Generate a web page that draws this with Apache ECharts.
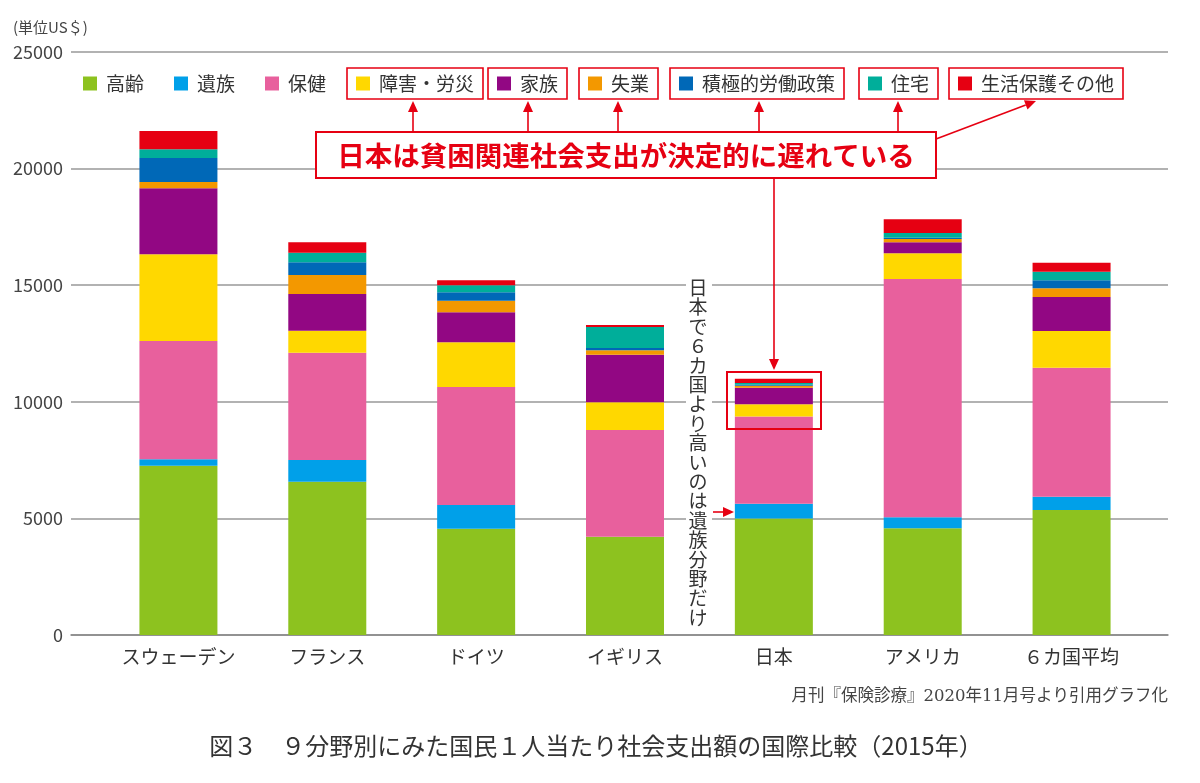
<!DOCTYPE html>
<html>
<head>
<meta charset="utf-8">
<title>社会支出額の国際比較</title>
<script src="https://cdn.jsdelivr.net/npm/echarts@6/dist/echarts.min.js"></script>
<style>
    html, body { margin: 0; padding: 0; background: #fff; }
    #chart { width: 1200px; height: 783px; }
</style>
</head>
<body>
<div id="chart"></div>
<script>
// 国名（横軸）
var countries = ['スウェーデン', 'フランス', 'ドイツ', 'イギリス', '日本', 'アメリカ', '６カ国平均'];

// 分野別 1人当たり社会支出（US$）
var koreiData     = [7260, 6574, 4560, 4216, 5000, 4575, 5360];
var izokuData     = [274, 930, 1015, 0, 630, 472, 570];
var hokenData     = [5073, 4602, 5060, 4574, 3745, 10218, 5532];
var shogaiData    = [3717, 943, 1915, 1187, 515, 1102, 1574];
var kazokuData    = [2831, 1573, 1285, 2044, 715, 472, 1457];
var shitsugyoData = [270, 815, 500, 186, 86, 141, 373];
var sekkyokuData  = [1029, 544, 360, 100, 43, 57, 344];
var jutakuData    = [373, 412, 300, 900, 71, 201, 369];
var seikatsuData  = [785, 446, 215, 86, 185, 587, 386];

// 分野名
var fieldNames = ['高齢', '遺族', '保健', '障害・労災', '家族', '失業', '積極的労働政策', '住宅', '生活保護その他'];

// 縦軸目盛
var yTicks = [0, 5000, 10000, 15000, 20000, 25000];

var FONT = '"Noto Sans CJK JP", "Noto Sans", sans-serif';
var RED = '#E60012';

var fieldColors = {
    '高齢': '#8DC21F',
    '遺族': '#00A0E9',
    '保健': '#E8609D',
    '障害・労災': '#FFD800',
    '家族': '#920783',
    '失業': '#F39800',
    '積極的労働政策': '#0068B7',
    '住宅': '#00AE9A',
    '生活保護その他': RED
};

var fieldData = [koreiData, izokuData, hokenData, shogaiData, kazokuData,
                 shitsugyoData, sekkyokuData, jutakuData, seikatsuData];

/**
 * 矢印（線＋三角）を作る
 */
function makeArrow(x1, y1, x2, y2) {
    var ang = Math.atan2(y2 - y1, x2 - x1);
    var len = 11, w = 5;
    var bx = x2 - len * Math.cos(ang);
    var by = y2 - len * Math.sin(ang);
    var s = Math.sin(ang), c = Math.cos(ang);
    return [{
        type: 'line',
        z: 50,
        shape: { x1: x1, y1: y1, x2: bx, y2: by },
        style: { stroke: RED, lineWidth: 1.6 }
    }, {
        type: 'polygon',
        z: 50,
        shape: { points: [[x2, y2], [bx + w * s, by - w * c], [bx - w * s, by + w * c]] },
        style: { fill: RED }
    }];
}

// 凡例：赤枠付きのものは1つずつ別の凡例にする
function makeLegend(names, left, boxed) {
    var lg = {
        data: names,
        left: left,
        top: boxed ? 68 : 74,
        orient: 'horizontal',
        icon: 'rect',
        itemWidth: 14,
        itemHeight: 14,
        itemGap: 30,
        selectedMode: false,
        padding: boxed ? [6, 9, 6, 9] : 0,
        textStyle: { fontFamily: FONT, fontSize: 19, color: '#333', padding: [0, 0, 0, 4] }
    };
    if (boxed) {
        lg.borderColor = RED;
        lg.borderWidth = 1.6;
        lg.backgroundColor = '#fff';
    }
    return lg;
}

var legends = [
    makeLegend(['高齢', '遺族', '保健'], 83, false),
    makeLegend(['障害・労災'], 347, true),
    makeLegend(['家族'], 488, true),
    makeLegend(['失業'], 579, true),
    makeLegend(['積極的労働政策'], 670, true),
    makeLegend(['住宅'], 859, true),
    makeLegend(['生活保護その他'], 949, true)
];

var series = fieldNames.map(function(name, i) {
    return {
        name: name,
        type: 'bar',
        stack: 'total',
        xAxisIndex: 1,
        yAxisIndex: 1,
        barWidth: 78,
        itemStyle: { color: fieldColors[name] },
        emphasis: { disabled: true },
        data: fieldData[i]
    };
});

// 注記
var graphics = [];
graphics.push({
    type: 'text', left: 13, top: 20, z: 40,
    style: { text: '(単位US＄)', font: '15px ' + FONT, fill: '#444' }
});
// メッセージ枠
graphics.push({
    type: 'rect', z: 45,
    shape: { x: 316, y: 132, width: 620, height: 46 },
    style: { fill: '#fff', stroke: RED, lineWidth: 2 }
});
graphics.push({
    type: 'text', z: 46, x: 626, y: 156,
    style: {
        text: '日本は貧困関連社会支出が決定的に遅れている',
        font: 'bold 27.5px ' + FONT, fill: RED, align: 'center', verticalAlign: 'middle'
    }
});
// 凡例への矢印
[413, 528, 618, 759, 898].forEach(function(x) {
    graphics = graphics.concat(makeArrow(x, 132, x, 101));
});
graphics = graphics.concat(makeArrow(936, 139, 1036, 101));
graphics = graphics.concat(makeArrow(774, 178, 774, 370));
// 日本の上部を囲む枠
graphics.push({
    type: 'rect', z: 45,
    shape: { x: 727, y: 372, width: 94, height: 57 },
    style: { fill: 'none', stroke: RED, lineWidth: 2 }
});
// 縦書きの注記
graphics.push({
    type: 'rect', z: 40,
    shape: { x: 686, y: 276, width: 26, height: 352 },
    style: { fill: '#fff' }
});
graphics.push({
    type: 'text', z: 41, x: 698, y: 278,
    style: {
        text: '日本で６カ国より高いのは遺族分野だけ'.split('').join('\n'),
        font: '19px ' + FONT, fill: '#333', align: 'center', lineHeight: 19.4
    }
});
graphics = graphics.concat(makeArrow(713, 512, 734, 512));
// 出典
graphics.push({
    type: 'text', z: 40, x: 1168, y: 697,
    style: {
        text: '月刊『保険診療』2020年11月号より引用グラフ化',
        font: '16.5px "DejaVu Serif", ' + FONT, fill: '#444', align: 'right', verticalAlign: 'middle'
    }
});
// 図タイトル
graphics.push({
    type: 'text', z: 40, x: 596, y: 746,
    style: {
        text: '図３　９分野別にみた国民１人当たり社会支出額の国際比較（2015年）',
        font: '24px ' + FONT, fill: '#333', align: 'center', verticalAlign: 'middle'
    }
});

var option = {
    backgroundColor: '#fff',
    animation: false,
    legend: legends,
    grid: [
        // 目盛線用
        { left: 71, right: 32, top: 52, bottom: 148 },
        // 棒グラフ用
        { left: 104, right: 54, top: 52, bottom: 148 }
    ],
    xAxis: [{
        gridIndex: 0,
        type: 'value',
        min: 0,
        max: 1,
        axisLine: { show: true, onZero: false, lineStyle: { color: '#888', width: 1.5 } },
        axisTick: { show: false },
        axisLabel: { show: false },
        splitLine: { show: false }
    }, {
        gridIndex: 1,
        type: 'category',
        data: countries,
        axisLine: { show: false },
        axisTick: { show: false },
        axisLabel: { fontFamily: FONT, fontSize: 19, color: '#333', margin: 12 }
    }],
    yAxis: [{
        gridIndex: 0,
        type: 'value',
        min: yTicks[0],
        max: yTicks[yTicks.length - 1],
        interval: 5000,
        axisLine: { show: false },
        axisTick: { show: false },
        axisLabel: {
            fontFamily: FONT, fontSize: 18, color: '#444', margin: 8,
            formatter: function(v) { return String(v); }
        },
        splitLine: { lineStyle: { color: '#999', width: 1.5 } }
    }, {
        gridIndex: 1,
        type: 'value',
        min: yTicks[0],
        max: yTicks[yTicks.length - 1],
        interval: 5000,
        show: false
    }],
    series: series,
    graphic: graphics
};

var chart = echarts.init(document.getElementById('chart'));
chart.setOption(option);
</script>
</body>
</html>
